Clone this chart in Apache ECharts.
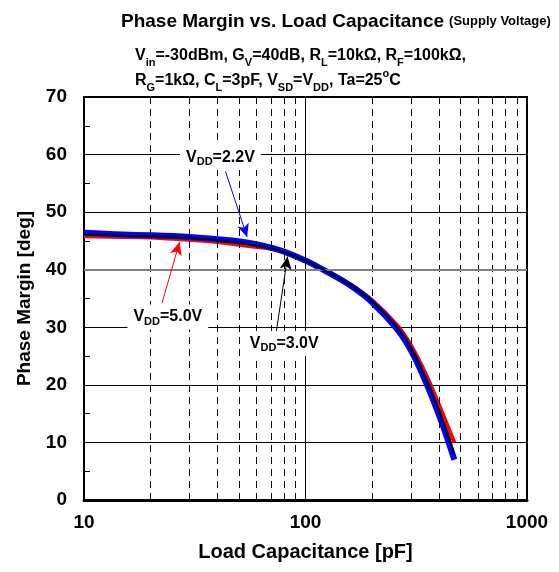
<!DOCTYPE html>
<html>
<head>
<meta charset="utf-8">
<script src="https://cdn.jsdelivr.net/npm/echarts@6/dist/echarts.min.js"></script>
<style>
html,body{margin:0;padding:0;background:#fff;}
#chart{width:559px;height:572px;}
</style>
</head>
<body>
<div id="chart"></div>
<script>
// ---- data ----
const capacitance = [10, 15, 20, 30, 40, 55, 75, 100, 120, 160, 200, 260, 300, 350, 400, 440, 470];
const pmVdd22 = [46.4, 46.1, 46.0, 45.7, 45.3, 44.7, 43.5, 41.6, 40.0, 37.2, 34.3, 29.6, 25.9, 20.4, 14.8, 10.3, 7.0];
const pmVdd30 = [46.1, 45.9, 45.8, 45.5, 45.1, 44.4, 43.4, 41.5, 40.0, 37.3, 34.5, 29.9, 26.3, 21.0, 15.6, 11.3, 7.9];
const pmVdd50 = [45.8, 45.7, 45.6, 45.2, 44.8, 44.1, 43.4, 41.7, 40.1, 37.4, 34.7, 30.3, 26.8, 21.8, 16.6, 12.7, 10.0];

const xTickLabels = ['10', '100', '1000'];
const minorGridX = [20, 30, 40, 50, 60, 70, 80, 90, 200, 300, 400, 500, 600, 700, 800, 900];

const labelTexts = ['2.2V', '5.0V', '3.0V'];
const labelC = [41.3, 23.9, 80.2];
const labelPM = [59.5, 31.8, 27.2];
const arrowFromC = [43.5, 22.5, 73.8];
const arrowFromPM = [57.1, 34.2, 29.2];
const arrowToC = [54.5, 27.0, 83.0];
const arrowToPM = [45.7, 44.8, 42.3];
const arrowColors = ['#0000ff', '#ff0000', '#000000'];

const FONT = 'Liberation Sans, Arial, sans-serif';

function pairs(xs, ys) { return xs.map((x, i) => [x, ys[i]]); }

const chart = echarts.init(document.getElementById('chart'), null, {renderer: 'canvas'});

const labelData = labelTexts.map((t, i) => ({
  value: [labelC[i], labelPM[i]],
  label: {formatter: '{m|V}{s|DD}{m|=' + t + '}'}
}));

const arrowData = labelTexts.map((t, i) => [
  {coord: [arrowFromC[i], arrowFromPM[i]], lineStyle: {color: arrowColors[i], width: 1, type: 'solid'}, itemStyle: {color: arrowColors[i]}},
  {coord: [arrowToC[i], arrowToPM[i]]}
]);

const option = {
  backgroundColor: '#fff',
  animation: false,
  title: [
    {
      text: '{a|Phase Margin vs. Load Capacitance} {b|(Supply Voltage)}',
      left: 116, top: 7,
      textStyle: {
        rich: {
          a: {fontFamily: FONT, fontWeight: 'bold', fontSize: 19, color: '#000'},
          b: {fontFamily: FONT, fontWeight: 'bold', fontSize: 13, color: '#000'}
        }
      }
    },
    {
      text: '{m|V}{s|in}{m|=-30dBm, G}{s|V}{m|=40dB, R}{s|L}{m|=10kΩ, R}{s|F}{m|=100kΩ,}\n{m|R}{s|G}{m|=1kΩ, C}{s|L}{m|=3pF, V}{s|SD}{m|=V}{s|DD}{m|, Ta=25}{u|o}{m|C}',
      left: 130, top: 38,
      textStyle: {
        lineHeight: 25,
        rich: {
          m: {fontFamily: FONT, fontWeight: 'bold', fontSize: 16, color: '#000', lineHeight: 25},
          s: {fontFamily: FONT, fontWeight: 'bold', fontSize: 11, color: '#000', lineHeight: 13, verticalAlign: 'bottom'},
          u: {fontFamily: FONT, fontWeight: 'bold', fontSize: 11, color: '#000', lineHeight: 25, verticalAlign: 'top'}
        }
      }
    }
  ],
  grid: {
    left: 84, right: 32, top: 97, bottom: 72,
    show: true, borderColor: '#000', borderWidth: 2, backgroundColor: 'transparent'
  },
  xAxis: {
    type: 'log', logBase: 10, min: 10, max: 1000,
    name: 'Load Capacitance [pF]', nameLocation: 'middle', nameGap: 42,
    nameTextStyle: {fontFamily: FONT, fontWeight: 'bold', fontSize: 20, color: '#000'},
    axisLine: {show: true, onZero: false, lineStyle: {color: '#000', width: 3}},
    axisTick: {show: false},
    axisLabel: {
      fontFamily: FONT, fontWeight: 'bold', fontSize: 19, color: '#000', margin: 13,
      showMinLabel: true, showMaxLabel: true,
      formatter: function (v) {
        const idx = Math.round(Math.log10(v)) - 1;
        return xTickLabels[idx] !== undefined ? xTickLabels[idx] : '';
      }
    },
    splitLine: {show: true, lineStyle: {color: '#000', width: 1}}
  },
  yAxis: {
    type: 'value', min: 0, max: 70, interval: 10,
    name: 'Phase Margin [deg]', nameLocation: 'middle', nameGap: 50,
    nameTextStyle: {fontFamily: FONT, fontWeight: 'bold', fontSize: 19, color: '#000'},
    axisLine: {show: true, lineStyle: {color: '#000', width: 2}},
    axisTick: {show: true, inside: true, length: 6, lineStyle: {color: '#000'}},
    minorTick: {show: true, splitNumber: 2, length: 6, lineStyle: {color: '#000'}},
    axisLabel: {fontFamily: FONT, fontWeight: 'bold', fontSize: 19, color: '#000', margin: 17},
    splitLine: {show: true, lineStyle: {color: '#000', width: 1}}
  },
  series: [
    {
      name: 'grid-minor', type: 'line', data: [], z: 1, silent: true,
      markLine: {
        silent: true, symbol: ['none', 'none'], animation: false,
        label: {show: false},
        lineStyle: {color: '#000', width: 1, type: [7, 5]},
        data: minorGridX.map(v => ({xAxis: v})).concat([{yAxis: 40, lineStyle: {color: '#808080', width: 2, type: 'solid'}}])
      }
    },
    {
      name: 'VDD=5.0V', type: 'line', data: pairs(capacitance, pmVdd50), smooth: 0.4,
      showSymbol: false, lineStyle: {color: '#ff0000', width: 4}, z: 3
    },
    {
      name: 'VDD=2.2V', type: 'line', data: pairs(capacitance, pmVdd22), smooth: 0.4,
      showSymbol: false, lineStyle: {color: '#0000ff', width: 6}, z: 4
    },
    {
      name: 'VDD=3.0V', type: 'line', data: pairs(capacitance, pmVdd30), smooth: 0.4,
      showSymbol: false, lineStyle: {color: '#000000', width: 2}, z: 5
    },
    {
      name: 'arrows', type: 'line', data: [], z: 6, silent: true,
      markLine: {
        silent: true, symbol: ['none', 'arrow'], symbolSize: [9, 13], animation: false,
        label: {show: false},
        lineStyle: {type: 'solid', width: 1},
        data: arrowData
      }
    },
    {
      name: 'labels', type: 'scatter', symbolSize: 0, z: 7, silent: true,
      itemStyle: {opacity: 1},
      data: labelData,
      label: {
        show: true, position: 'inside', backgroundColor: '#fff', padding: [2, 6, 2, 6], opacity: 1,
        rich: {
          m: {fontFamily: FONT, fontWeight: 'bold', fontSize: 16, color: '#000', lineHeight: 21},
          s: {fontFamily: FONT, fontWeight: 'bold', fontSize: 11, color: '#000', lineHeight: 13, verticalAlign: 'bottom'}
        }
      },
      emphasis: {disabled: true}
    }
  ]
};
chart.setOption(option);
</script>
</body>
</html>
